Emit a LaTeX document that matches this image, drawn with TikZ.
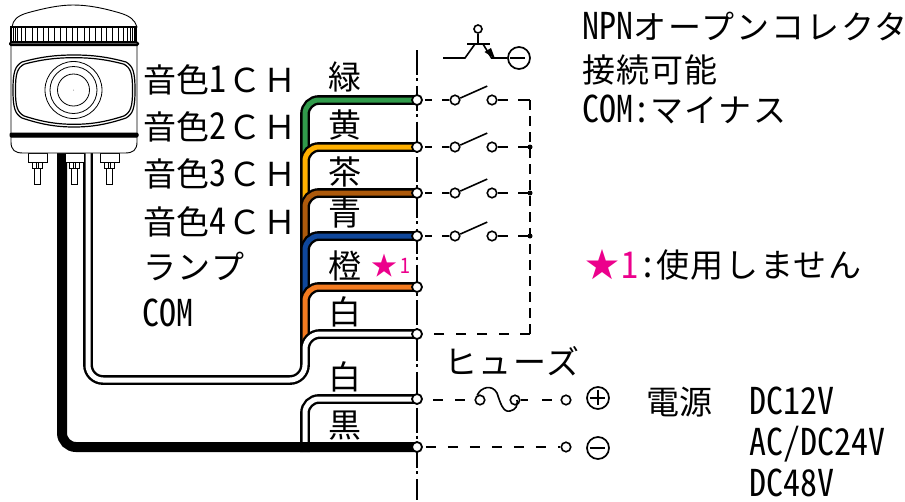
\documentclass[tikz,border=0pt]{standalone}
\usepackage{fontspec}
\usetikzlibrary{backgrounds}
\setmainfont{Noto Sans CJK JP}
\newfontfamily\hwf[RawFeature=+hwid,Scale=1.12,FakeStretch=0.92]{Noto Sans CJK JP}
\newcommand{\hwt}[1]{{\hwf #1}}
\newcommand{\sptx}[2]{{\addfontfeature{LetterSpace=#1}#2}}
\definecolor{wgreen}{HTML}{319B4B}
\definecolor{wyellow}{HTML}{FFB000}
\definecolor{wbrown}{HTML}{AD5A0C}
\definecolor{wblue}{HTML}{0F479B}
\definecolor{worange}{HTML}{F47B20}
\definecolor{pinkstar}{HTML}{EC008C}
\tikzset{
  txt/.style={anchor=base west,inner sep=0pt,font=\fontsize{33}{33}\selectfont},
  wlabel/.style={anchor=base,inner sep=0pt,font=\fontsize{33}{33}\selectfont},
  wirec/.style={line width=2.4pt,double=#1,double distance=5pt,rounded corners=14pt},
  term/.style={circle,draw=black,fill=white,line width=1.8pt,minimum size=10pt,inner sep=0pt},
  swc/.style={circle,draw=black,fill=white,line width=1.6pt,minimum size=9.5pt,inner sep=0pt},
  jdot/.style={circle,fill=black,minimum size=5pt,inner sep=0pt},
  sym/.style={circle,draw=black,fill=white,line width=1.7pt,minimum size=22pt,inner sep=0pt},
  dsh/.style={line width=1.6pt,dash pattern=on 10pt off 12pt},
  dshv/.style={line width=1.6pt,dash pattern=on 10pt off 6pt},
  sld/.style={line width=1.6pt},
  dev/.style={line width=.9pt,draw=black,fill=white},
}
\newcommand{\winpath}{(13,90) .. controls (13,72) and (15,66) .. (22,62) .. controls (40,57) and (55,55) .. (74,55) .. controls (93,55) and (108,57) .. (126,62) .. controls (133,66) and (135,72) .. (135,90) .. controls (135,108) and (133,114) .. (126,118) .. controls (108,124) and (93,127) .. (74,127) .. controls (55,127) and (40,124) .. (22,118) .. controls (15,114) and (13,108) .. (13,90) -- cycle}
\newcommand{\lugat}[1]{%
  \draw[dev] (#1-9.5,153) rectangle (#1+9.5,162);
  \draw[dev] (#1-5,162) rectangle (#1+5,168);
  \draw[dev] (#1-3,168) rectangle (#1+3,184);
  \draw[line width=.7pt] (#1-1,162)--(#1-1,168) (#1+1,162)--(#1+1,168);
}
\newcommand{\chw}{\hspace{2.5pt}\symbol{"FF23}\hspace{2pt}\symbol{"FF28}}
\begin{document}
\begin{tikzpicture}[x=1pt,y=-1pt]
\useasboundingbox (0,0) rectangle (905,501);
% ---- anchors
\coordinate (top) at (417,50);
\coordinate (bot) at (417,500);
\coordinate (wa) at (305,165);
\coordinate (wb) at (305,212);
\coordinate (wc) at (305,255);
\coordinate (wd) at (305,306);
\coordinate (we) at (305,354);
\coordinate (wf) at (305,380);
\coordinate (wg) at (88,153);
\coordinate (wh) at (305,452);
\coordinate (wi) at (62,153);
\coordinate (bus) at (530,100);
\coordinate (busb) at (530,334);
% ---- terminals
\node[term] (t1) at (417,100) {};
\node[term] (t2) at (417,147) {};
\node[term] (t3) at (417,193) {};
\node[term] (t4) at (417,236) {};
\node[term] (t5) at (417,287) {};
\node[term] (t6) at (417,334) {};
\node[term] (t7) at (417,399) {};
\node[term] (t8) at (417,447) {};
% ---- wires
\begin{scope}[on background layer]
\fill[white] (0,0) rectangle (905,501);
\draw[line width=2pt,dash pattern=on 25pt off 3pt on 3pt off 4.75pt] (top)--(bot);
\draw[wirec=wgreen] (t1.center) -| (wa);
\draw[wirec=wyellow] (t2.center) -| (wb);
\draw[wirec=wbrown] (t3.center) -| (wc);
\draw[wirec=wblue] (t4.center) -| (wd);
\draw[wirec=worange] (t5.center) -| (we);
\draw[wirec=white,rounded corners=15pt] (t6.center) -| (wf) -| (wg);
\draw[wirec=white] (t7.center) -| (wh);
\draw[line width=10pt,rounded corners=14pt] (t8.center) -| (wi);
\end{scope}
% ---- device
\draw[dev] (12,27) .. controls (13,20) and (17,16) .. (27,13) .. controls (45,8) and (60,5) .. (73,5) .. controls (88,5) and (103,8) .. (120,13) .. controls (130,16) and (135,20) .. (137,27) -- cycle;
\draw[dev,line width=1.2pt] (11,27) rectangle (136,42);
\foreach \xx in {13,15,17,21,25,32,37,43,48,54,60,66,72,77,84,89,95,101,106,112,118,123,127,130,132,134}
  \draw[line width=.9pt] (\xx,27)--(\xx,42);
\lugat{37.5}
\lugat{74.5}
\lugat{109.5}
\draw[dev] (11,44) -- (137,44) -- (137,142) .. controls (137,150) and (133,153) .. (125,153) -- (23,153) .. controls (15,153) and (11,150) .. (11,142) -- cycle;
\draw[line width=2pt,fill=white,rounded corners=1pt] (10,42.5) rectangle (138,45);
\draw[line width=1pt,fill=black,rounded corners=1pt] (10,133) rectangle (138,137);
\draw[line width=1.2pt] \winpath;
\begin{scope}[shift={(74,91)},xscale=.96,yscale=.925,shift={(-74,-91)}]
\draw[line width=1.2pt] \winpath;
\end{scope}
\draw[line width=.8pt] (73.5,90) circle (28.5) circle (23.5) circle (16);
\fill[gray] (73.5,90) circle (.5);
% ---- left labels
\node[txt] (r1) at (143,92.5) {音色\hwt{1}\chw};
\node[txt] (r2) at (143,139.5) {音色\hwt{2}\chw};
\node[txt] (r3) at (143,186.5) {音色\hwt{3}\chw};
\node[txt] (r4) at (143,234.5) {音色\hwt{4}\chw};
\node[txt] (r5) at (143,279.5) {\sptx{5}{ランプ}};
\node[txt] (r6) at (142,326.5) {\hwt{COM}};
% ---- wire labels
\node[wlabel] (l1) at (345,89.5) {緑};
\node[wlabel] (l2) at (345,137.5) {黄};
\node[wlabel] (l3) at (345,184.5) {茶};
\node[wlabel] (l4) at (345,225.5) {青};
\node[wlabel] (l5) at (345,278.5) {橙};
\node[wlabel] (l6) at (345,324.5) {白};
\node[wlabel] (l7) at (345,389.5) {白};
\node[wlabel] (l8) at (345,437.5) {黒};
\node[anchor=base west,inner sep=0pt,text=pinkstar,font=\fontsize{26}{26}\selectfont] (st1) at (371,275) {★};
\node[anchor=base west,inner sep=0pt,text=pinkstar,font=\fontsize{19}{19}\selectfont\hwf] (st1n) at (400,273.5) {1};
% ---- switches
\foreach \n/\yy/\tt in {a/100/t1,b/147/t2,c/193/t3,d/236/t4}{
  \node[swc] (s\n l) at (455,\yy) {};
  \node[swc] (s\n r) at (492,\yy) {};
  \draw[sld] (\tt.center) ++(8,0) -- ++(7,0);
  \draw[sld] (s\n l.west) -- ++(-7,0);
  \draw[sld] (s\n l.20) -- ++(27,-12);
  \draw[sld] (s\n r.east) -- ++(10,0);
  \coordinate (e\n) at (518,\yy);
}
\draw[sld] (ea) -- (bus);
\draw[sld] (eb) -- (530,147);
\draw[sld] (ec) -- (530,193);
\draw[sld] (ed) -- (530,236);
\draw[dshv] (bus) -- (busb);
\draw[dsh,dash pattern=on 10pt off 11.5pt] (busb) -- (t6.east);
\node[jdot] (jb) at (530,147) {};
\node[jdot] (jc) at (530,193) {};
\node[jdot] (jd) at (530,236) {};
% ---- NPN symbol
\node[swc,minimum size=8pt] (base) at (478,29) {};
\node[sym] (npnm) at (519,58) {};
\coordinate (ci) at (443,58);
\coordinate (cj) at (465,58);
\coordinate (ck) at (475,44);
\coordinate (cl) at (483,44);
\coordinate (cm) at (491.5,58);
\draw[sld] (ci) -- (cj) -- (ck);
\draw[sld] (467,44) -- (490,44);
\draw[sld] (base) -- (478,44);
\draw[sld] (cl) -- (cm) -- (npnm);
\fill (cm)++(3.5,0.6) -- (484.5,52) -- (491,48) -- cycle;
\draw[sld] (npnm.west) ++(3,0) -- ++(15,0);
% ---- fuse and power
\node[swc] (fl) at (480,400) {};
\node[swc] (fr) at (515,400) {};
\node[swc] (pa) at (566,400) {};
\node[swc] (pb) at (566,447) {};
\node[sym] (plus) at (598,398) {};
\node[sym] (minus) at (598,448) {};
\draw[sld] (fl.120) .. controls (481,387) and (492,384) .. (497,393) .. controls (500,402) and (503,413) .. (510,411) .. controls (516,410) and (518,405) .. (517,400);
\draw[sld] (433,400) -- (443,400);
\draw[sld] (455,400) -- (465,400);
\draw[sld] (fr.east) -- (528,400);
\draw[sld] (542,400) -- (552,400);
\draw[dsh] (t8.east) ++(3,0) -- (pb.west);
\draw[sld] (plus.west) ++(3.5,0) -- ++(15,0);
\draw[sld] (plus.north) ++(0,3.5) -- ++(0,15);
\draw[sld] (minus.west) ++(3.5,0) -- ++(15,0);
% ---- right labels
\node[txt] (n1) at (582,39.5) {\hwt{NPN}\sptx{6}{オープンコレクタ}\hspace{-5pt}};
\node[txt] (n2) at (582,82.5) {\sptx{3}{接続可能}};
\node[txt] (n3) at (582,122.5) {\hwt{COM:}\sptx{5}{マイナス}};
\node[anchor=base west,inner sep=0pt,text=pinkstar,font=\fontsize{34}{34}\selectfont] (st2) at (585,277.5) {★};
\node[txt,text=pinkstar] (st2n) at (621,278) {\hwt{1}};
\node[txt] (st2t) at (639,277.5) {\hwt{:}\sptx{5}{使用しません}};
\node[txt] (fz) at (444,374.5) {\sptx{5}{ヒューズ}};
\node[txt] (pw) at (646,414.5) {電源};
\node[txt] (v1) at (749,414.5) {\hwt{DC12V}};
\node[txt] (v2) at (749,455.5) {\hwt{AC/DC24V}};
\node[txt] (v3) at (749,496.5) {\hwt{DC48V}};
\end{tikzpicture}
\end{document}
